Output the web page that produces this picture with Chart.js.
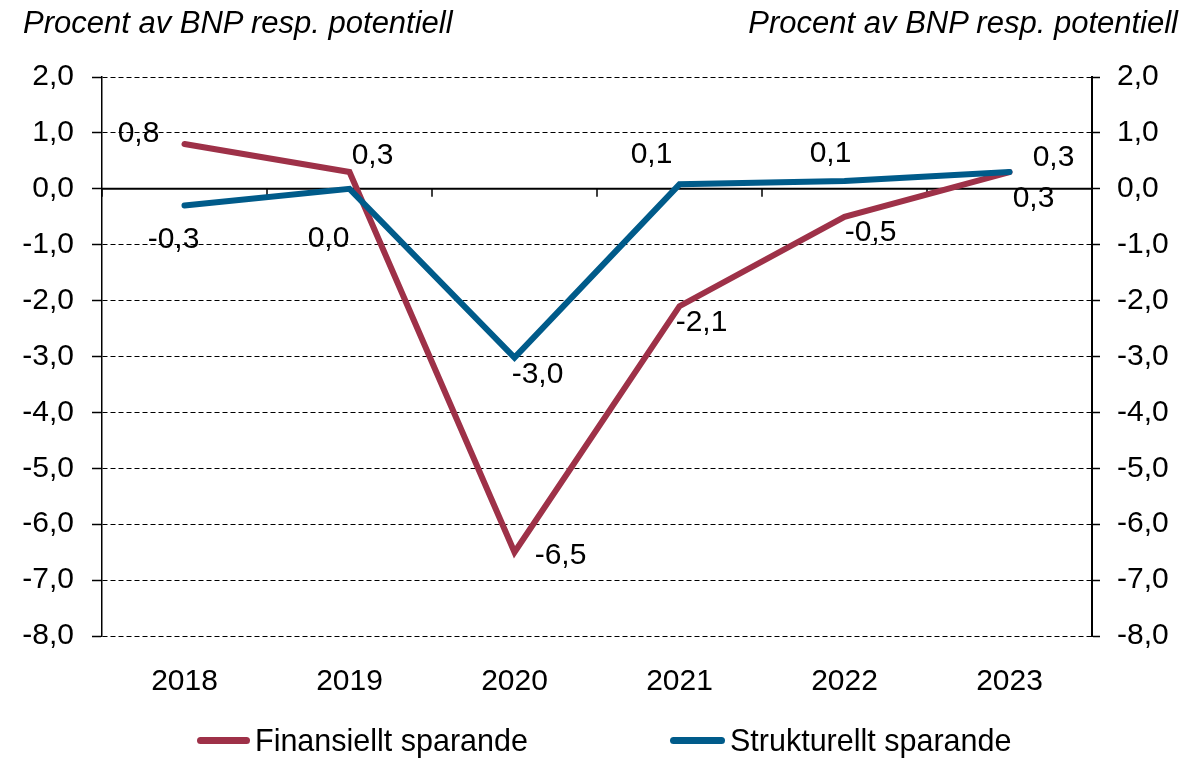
<!DOCTYPE html>
<html>
<head>
<meta charset="utf-8">
<script src="https://cdn.jsdelivr.net/npm/chart.js@4.4.1/dist/chart.umd.min.js"></script>
<style>
  html, body { margin: 0; padding: 0; background: #fff; }
  #wrap { position: relative; width: 1203px; height: 758px; font-family: "Liberation Sans", Arial, sans-serif; color: #000; }
  #chart { position: absolute; left: 0; top: 0; }
  .title { position: absolute; top: 7px; font-size: 31px; line-height: 31px; font-style: italic; white-space: nowrap; }
  .leg { position: absolute; top: 725px; font-size: 30.5px; line-height: 30px; white-space: nowrap; }
  .leg i { position: absolute; top: 12px; height: 7px; border-radius: 4px; }
</style>
</head>
<body>
<div id="wrap">
  <canvas id="chart" width="1203" height="758"></canvas>
  <div class="title" style="left:23px">Procent av BNP resp. potentiell</div>
  <div class="title" style="right:25px">Procent av BNP resp. potentiell</div>
  <div class="leg" style="left:255px"><i style="left:-58px;width:53px;background:#9e3148"></i>Finansiellt sparande</div>
  <div class="leg" style="left:730px"><i style="left:-60px;width:55px;background:#005b8a"></i>Strukturellt sparande</div>
</div>
<script>
const years = ["2018", "2019", "2020", "2021", "2022", "2023"];
const finansiellt = [0.8, 0.3, -6.5, -2.1, -0.5, 0.3];
const strukturellt = [-0.3, 0.0, -3.02, 0.08, 0.14, 0.3];
const yMin = -8;
const yMax = 2;

// label offsets from each point, in px
const finOffsets = [[-46, -10], [23, -16], [46, 4], [22, 17], [26, 16], [24, 27]];
const strOffsets = [[-11, 34], [-21, 50], [23, 17], [-28, -30], [-14, -27], [44, -14]];

const RED = "#9e3148";
const BLUE = "#005b8a";
const FONT = "Liberation Sans, Arial, sans-serif";

function fmt(v) {
  return v.toFixed(1).replace(".", ",").replace("-0,0", "0,0");
}

const extras = {
  id: "extras",
  beforeDatasetsDraw(chart) {
    const { ctx, chartArea } = chart;
    const x = chart.scales.x;
    const y0 = chart.scales.y.getPixelForValue(0);
    ctx.save();
    ctx.strokeStyle = "#000";
    ctx.lineWidth = 2;
    ctx.beginPath();
    ctx.moveTo(chartArea.left, y0);
    ctx.lineTo(chartArea.right, y0);
    ctx.stroke();
    // category boundary ticks on the zero line
    ctx.lineWidth = 1.5;
    const step = x.getPixelForValue(1) - x.getPixelForValue(0);
    for (let i = 0; i <= years.length; i++) {
      const px = x.getPixelForValue(0) - step / 2 + i * step;
      ctx.beginPath();
      ctx.moveTo(px, y0);
      ctx.lineTo(px, y0 + 8);
      ctx.stroke();
    }
    ctx.restore();
  },
  afterDatasetsDraw(chart) {
    const { ctx } = chart;
    ctx.save();
    ctx.font = "30px " + FONT;
    ctx.fillStyle = "#000";
    ctx.textAlign = "center";
    ctx.textBaseline = "middle";
    const sets = [[0, finansiellt, finOffsets], [1, strukturellt, strOffsets]];
    sets.forEach(([di, vals, offs]) => {
      const meta = chart.getDatasetMeta(di);
      meta.data.forEach((pt, i) => {
        ctx.fillText(fmt(vals[i]), pt.x + offs[i][0], pt.y + offs[i][1]);
      });
    });
    ctx.restore();
  },
};

const tickFont = { family: FONT, size: 30 };

new Chart(document.getElementById("chart"), {
  type: "line",
  data: {
    labels: years,
    datasets: [
      { label: "Finansiellt sparande", data: finansiellt, borderColor: RED, backgroundColor: RED, order: 2 },
      { label: "Strukturellt sparande", data: strukturellt, borderColor: BLUE, backgroundColor: BLUE, order: 1 },
    ],
  },
  options: {
    responsive: false,
    animation: false,
    layout: { padding: { top: 77, bottom: 0, left: 0, right: 0 } },
    elements: {
      line: { borderWidth: 6, tension: 0, borderCapStyle: "round", borderJoinStyle: "miter" },
      point: { radius: 0, hoverRadius: 0 },
    },
    plugins: { legend: { display: false }, tooltip: { enabled: false } },
    scales: {
      x: {
        offset: true,
        grid: { display: false },
        border: { display: false },
        ticks: { color: "#000", font: tickFont, padding: 20, maxRotation: 0 },
        afterFit: (s) => { s.height = 122; },
      },
      y: {
        position: "left",
        min: yMin,
        max: yMax,
        ticks: { stepSize: 1, color: "#000", font: tickFont, padding: 18, callback: (v) => fmt(v) },
        grid: {
          color: (c) => (c.tick && c.tick.value === 0 ? "rgba(0,0,0,0)" : "#000"),
          lineWidth: 1,
          tickColor: "#000",
          tickLength: 10,
          tickWidth: 1.5,
        },
        border: { display: true, color: "#000", width: 1.5, dash: [5, 3] },
        afterFit: (s) => { s.width = 102; },
      },
      y2: {
        position: "right",
        min: yMin,
        max: yMax,
        ticks: { stepSize: 1, color: "#000", font: tickFont, padding: 17, callback: (v) => fmt(v) },
        grid: { drawOnChartArea: false, tickColor: "#000", tickLength: 8, tickWidth: 1.5 },
        border: { display: true, color: "#000", width: 2 },
        afterFit: (s) => { s.width = 111; },
      },
    },
  },
  plugins: [extras],
});
</script>
</body>
</html>
